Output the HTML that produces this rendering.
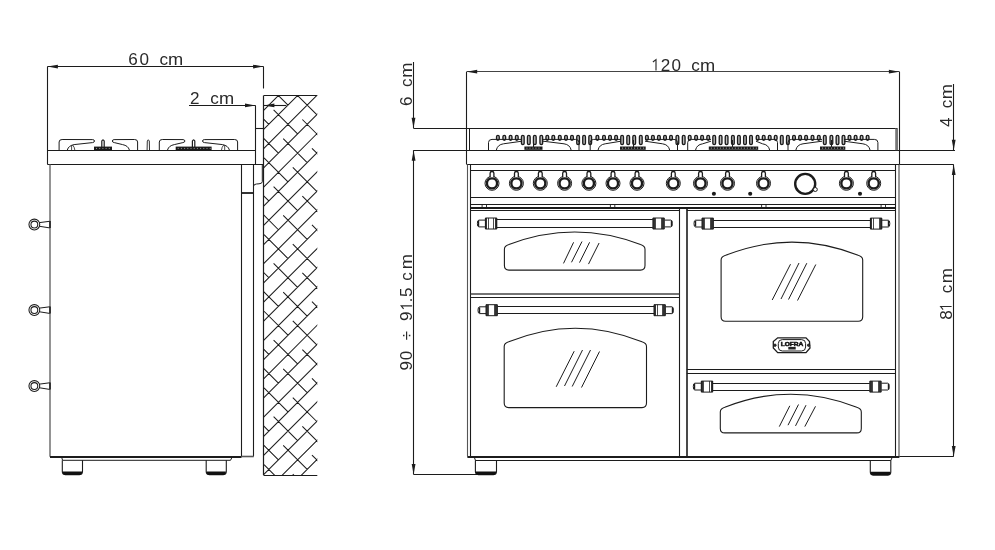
<!DOCTYPE html>
<html><head><meta charset="utf-8"><style>
html,body{margin:0;padding:0;background:#fff;}
svg{display:block;}
</style></head><body>
<svg width="995" height="550" viewBox="0 0 995 550">
<rect width="995" height="550" fill="#fff"/>
<line x1="47.40" y1="66.50" x2="263.60" y2="66.50" stroke="#1c1c1c" stroke-width="1.1" />
<path d="M47.40,66.60 L57.90,64.70 L57.90,68.50 Z" fill="#1c1c1c" stroke="none"/>
<path d="M263.60,66.60 L253.10,68.50 L253.10,64.70 Z" fill="#1c1c1c" stroke="none"/>
<line x1="47.50" y1="66.60" x2="47.50" y2="164.40" stroke="#1c1c1c" stroke-width="1.1" />
<line x1="263.50" y1="66.60" x2="263.50" y2="88.50" stroke="#1c1c1c" stroke-width="1.1" />
<line x1="189.00" y1="105.50" x2="255.50" y2="105.50" stroke="#1c1c1c" stroke-width="1.1" />
<path d="M255.50,105.40 L245.00,107.30 L245.00,103.50 Z" fill="#1c1c1c" stroke="none"/>
<line x1="263.70" y1="105.50" x2="286.40" y2="105.50" stroke="#1c1c1c" stroke-width="1.1" />
<path d="M263.90,105.40 L274.40,103.50 L274.40,107.30 Z" fill="#1c1c1c" stroke="none"/>
<line x1="255.50" y1="105.40" x2="255.50" y2="164.40" stroke="#1c1c1c" stroke-width="1.1" />
<line x1="255.50" y1="128.50" x2="263.70" y2="128.50" stroke="#1c1c1c" stroke-width="1.1" />
<line x1="47.40" y1="150.50" x2="255.50" y2="150.50" stroke="#1c1c1c" stroke-width="1.1" />
<line x1="47.40" y1="164.50" x2="263.50" y2="164.50" stroke="#1c1c1c" stroke-width="1.1" />
<path d="M59.1,150 L59.1,142 Q59.1,139.5 62.1,139.5 L92.7,139.6 Q94.5,139.8 94.5,141 Q94.5,142.3 92.5,142.6 L74.1,144.6 Q68.6,145.6 67.3,150" stroke="#1c1c1c" stroke-width="1.0" fill="none" />
<path d="M71.6,145.2 L71.6,150 M72.6,145 Q74.5,147 74.8,150" stroke="#1c1c1c" stroke-width="0.8" fill="none" />
<path d="M137.6,150 L137.6,142 Q137.6,139.5 134.6,139.5 L114.1,139.6 Q112.3,139.8 112.3,141 Q112.3,142.3 114.3,142.6 L122.6,144.6 Q128.1,145.6 129.4,150" stroke="#1c1c1c" stroke-width="1.0" fill="none" />
<path d="M159.3,150 L159.3,142 Q159.3,139.5 162.3,139.5 L183.1,139.6 Q184.9,139.8 184.9,141 Q184.9,142.3 182.9,142.6 L174.3,144.6 Q168.8,145.6 167.5,150" stroke="#1c1c1c" stroke-width="1.0" fill="none" />
<path d="M237.6,150 L237.6,142 Q237.6,139.5 234.6,139.5 L204.3,139.6 Q202.5,139.8 202.5,141 Q202.5,142.3 204.5,142.6 L222.6,144.6 Q228.1,145.6 229.4,150" stroke="#1c1c1c" stroke-width="1.0" fill="none" />
<path d="M224.7,145.2 L224.7,150 M223.7,145 Q221.8,147 221.5,150" stroke="#1c1c1c" stroke-width="0.8" fill="none" />
<rect x="94.00" y="146.60" width="18.00" height="3.40" rx="0" stroke="#1c1c1c" stroke-width="0" fill="#1a1a1a"/>
<rect x="96.00" y="147.9" width="1" height="1" fill="#999"/>
<rect x="99.20" y="147.9" width="1" height="1" fill="#999"/>
<rect x="102.40" y="147.9" width="1" height="1" fill="#999"/>
<rect x="105.60" y="147.9" width="1" height="1" fill="#999"/>
<rect x="108.80" y="147.9" width="1" height="1" fill="#999"/>
<path d="M101.8,147 L101.8,141 Q103,138.6 104.2,141 L104.2,147" stroke="#1c1c1c" stroke-width="1.2" fill="none" />
<rect x="175.70" y="146.60" width="35.90" height="3.40" rx="0" stroke="#1c1c1c" stroke-width="0" fill="#1a1a1a"/>
<rect x="177.70" y="147.9" width="1" height="1" fill="#999"/>
<rect x="180.90" y="147.9" width="1" height="1" fill="#999"/>
<rect x="184.10" y="147.9" width="1" height="1" fill="#999"/>
<rect x="187.30" y="147.9" width="1" height="1" fill="#999"/>
<rect x="190.50" y="147.9" width="1" height="1" fill="#999"/>
<rect x="193.70" y="147.9" width="1" height="1" fill="#999"/>
<rect x="196.90" y="147.9" width="1" height="1" fill="#999"/>
<rect x="200.10" y="147.9" width="1" height="1" fill="#999"/>
<rect x="203.30" y="147.9" width="1" height="1" fill="#999"/>
<rect x="206.50" y="147.9" width="1" height="1" fill="#999"/>
<rect x="209.70" y="147.9" width="1" height="1" fill="#999"/>
<path d="M192.4,147 L192.4,141 Q193.6,138.6 194.79999999999998,141 L194.79999999999998,147" stroke="#1c1c1c" stroke-width="1.2" fill="none" />
<path d="M147.1,150 L147.3,141 Q148.3,138.5 149.3,141 L149.5,150" stroke="#1c1c1c" stroke-width="0.9" fill="none" />
<line x1="50.00" y1="164.40" x2="50.00" y2="456.80" stroke="#707070" stroke-width="1.5" />
<line x1="241.50" y1="164.40" x2="241.50" y2="456.80" stroke="#1c1c1c" stroke-width="1.1" />
<line x1="50.00" y1="457.00" x2="241.50" y2="457.00" stroke="#1c1c1c" stroke-width="2" />
<path d="M61.8,457.8 L62.6,460.3 L230.5,460.3 L231.8,457.8" stroke="#1c1c1c" stroke-width="1.0" fill="none" />
<path d="M62.3,460.3 L62.3,471.6 Q62.3,474.6 65.3,474.6 L79.5,474.6 Q82.5,474.6 82.5,471.6 L82.5,460.3" stroke="#1c1c1c" stroke-width="1.1" fill="none" />
<path d="M62.8,471.40000000000003 L82.0,471.40000000000003 L82.0,472.6 Q82.0,475.1 79.5,475.1 L65.3,475.1 Q62.8,475.1 62.8,472.6 Z" stroke="#1c1c1c" stroke-width="0" fill="#111" />
<path d="M206.2,460.3 L206.2,471.6 Q206.2,474.6 209.2,474.6 L223.3,474.6 Q226.3,474.6 226.3,471.6 L226.3,460.3" stroke="#1c1c1c" stroke-width="1.1" fill="none" />
<path d="M206.7,471.40000000000003 L225.8,471.40000000000003 L225.8,472.6 Q225.8,475.1 223.3,475.1 L209.2,475.1 Q206.7,475.1 206.7,472.6 Z" stroke="#1c1c1c" stroke-width="0" fill="#111" />
<circle cx="34.35" cy="224.50" r="5.40" stroke="#1c1c1c" stroke-width="1.05" fill="none"/>
<circle cx="34.35" cy="224.50" r="3.40" stroke="#1c1c1c" stroke-width="1.05" fill="none"/>
<line x1="50.00" y1="221.00" x2="50.00" y2="228.10" stroke="#1c1c1c" stroke-width="1.6" />
<path d="M39.6,222.6 L49.6,221.3 M39.6,226.3 L49.6,227.9" stroke="#1c1c1c" stroke-width="1.0" fill="none" />
<circle cx="34.35" cy="310.00" r="5.40" stroke="#1c1c1c" stroke-width="1.05" fill="none"/>
<circle cx="34.35" cy="310.00" r="3.40" stroke="#1c1c1c" stroke-width="1.05" fill="none"/>
<line x1="50.00" y1="306.50" x2="50.00" y2="313.60" stroke="#1c1c1c" stroke-width="1.6" />
<path d="M39.6,308.1 L49.6,306.8 M39.6,311.8 L49.6,313.4" stroke="#1c1c1c" stroke-width="1.0" fill="none" />
<circle cx="34.35" cy="386.00" r="5.40" stroke="#1c1c1c" stroke-width="1.05" fill="none"/>
<circle cx="34.35" cy="386.00" r="3.40" stroke="#1c1c1c" stroke-width="1.05" fill="none"/>
<line x1="50.00" y1="382.50" x2="50.00" y2="389.60" stroke="#1c1c1c" stroke-width="1.6" />
<path d="M39.6,384.1 L49.6,382.8 M39.6,387.8 L49.6,389.4" stroke="#1c1c1c" stroke-width="1.0" fill="none" />
<line x1="253.50" y1="164.40" x2="253.50" y2="456.50" stroke="#1c1c1c" stroke-width="1.1" />
<line x1="241.50" y1="193.00" x2="253.70" y2="193.00" stroke="#1c1c1c" stroke-width="1.8" />
<path d="M262.3,164.4 L262.3,181.7 Q262.3,183.6 259,183.8 L256.5,184 Q253.7,184.2 253.7,186" stroke="#1c1c1c" stroke-width="1.0" fill="none" />
<line x1="241.50" y1="164.50" x2="241.50" y2="164.50" stroke="#1c1c1c" stroke-width="1.1" />
<path d="M241.5,456.5 L253.7,456.5" stroke="#555" stroke-width="1.6" fill="none" />
<clipPath id="wc"><rect x="263.7" y="95.6" width="53.60000000000002" height="379.6"/></clipPath>
<path d="M243.70,111.06 L337.30,17.46 M243.70,130.24 L337.30,36.63 M243.70,149.41 L337.30,55.81 M243.70,168.58 L337.30,74.98 M243.70,187.76 L337.30,94.16 M243.70,206.94 L337.30,113.33 M243.70,226.11 L337.30,132.51 M243.70,245.29 L337.30,151.69 M243.70,264.46 L337.30,170.86 M243.70,283.64 L337.30,190.04 M243.70,302.81 L337.30,209.21 M243.70,321.99 L337.30,228.39 M243.70,341.16 L337.30,247.56 M243.70,360.33 L337.30,266.73 M243.70,379.51 L337.30,285.91 M243.70,398.69 L337.30,305.08 M243.70,417.86 L337.30,324.26 M243.70,437.04 L337.30,343.44 M243.70,456.21 L337.30,362.61 M243.70,475.39 L337.30,381.79 M243.70,494.56 L337.30,400.96 M243.70,513.74 L337.30,420.14 M243.70,532.91 L337.30,439.31 M243.70,552.09 L337.30,458.49 M-224.94,531.76 L-200.97,555.73 M-186.59,570.11 L-162.62,594.08 M-148.24,608.46 L-124.27,632.43 M-109.89,646.81 L-85.92,670.78 M-71.54,685.16 L-47.57,709.13 M-33.19,723.51 L-9.22,747.48 M5.16,761.86 L29.13,785.83 M-196.18,541.35 L-172.21,565.32 M-157.83,579.70 L-133.86,603.67 M-119.48,618.05 L-95.51,642.02 M-81.13,656.40 L-57.16,680.37 M-42.78,694.75 L-18.81,718.72 M-4.43,733.10 L19.54,757.07 M33.92,771.45 L57.89,795.42 M-205.76,512.59 L-181.80,536.56 M-167.41,550.94 L-143.44,574.90 M-129.06,589.29 L-105.09,613.25 M-90.71,627.64 L-66.75,651.61 M-52.36,665.99 L-28.39,689.96 M-14.01,704.34 L9.95,728.31 M24.34,742.69 L48.31,766.65 M-177.00,522.17 L-153.03,546.14 M-138.65,560.52 L-114.68,584.49 M-100.30,598.87 L-76.33,622.84 M-61.95,637.22 L-37.98,661.19 M-23.60,675.57 L0.37,699.54 M14.75,713.92 L38.72,737.89 M53.10,752.27 L77.07,776.24 M-186.59,493.41 L-162.62,517.38 M-148.24,531.76 L-124.27,555.73 M-109.89,570.11 L-85.92,594.08 M-71.54,608.46 L-47.57,632.43 M-33.19,646.81 L-9.22,670.78 M5.16,685.16 L29.13,709.13 M43.51,723.51 L67.48,747.48 M-157.83,503.00 L-133.86,526.97 M-119.48,541.35 L-95.51,565.32 M-81.13,579.70 L-57.16,603.67 M-42.78,618.05 L-18.81,642.02 M-4.43,656.40 L19.54,680.37 M33.92,694.75 L57.89,718.72 M72.27,733.10 L96.24,757.07 M-167.41,474.24 L-143.45,498.21 M-129.06,512.59 L-105.10,536.56 M-90.71,550.94 L-66.75,574.91 M-52.36,589.29 L-28.40,613.26 M-14.01,627.64 L9.95,651.61 M24.34,665.99 L48.30,689.96 M62.69,704.34 L86.65,728.31 M-138.65,483.82 L-114.68,507.79 M-100.30,522.17 L-76.33,546.14 M-61.95,560.52 L-37.98,584.49 M-23.60,598.87 L0.37,622.84 M14.75,637.22 L38.72,661.19 M53.10,675.57 L77.07,699.54 M91.45,713.92 L115.42,737.89 M-148.24,455.06 L-124.27,479.03 M-109.89,493.41 L-85.92,517.38 M-71.54,531.76 L-47.57,555.73 M-33.19,570.11 L-9.22,594.08 M5.16,608.46 L29.13,632.43 M43.51,646.81 L67.48,670.78 M81.86,685.16 L105.83,709.13 M-119.48,464.65 L-95.51,488.62 M-81.13,503.00 L-57.16,526.97 M-42.78,541.35 L-18.81,565.32 M-4.43,579.70 L19.54,603.67 M33.92,618.05 L57.89,642.02 M72.27,656.40 L96.24,680.37 M110.62,694.75 L134.59,718.72 M-129.06,435.89 L-105.10,459.86 M-90.71,474.24 L-66.75,498.21 M-52.36,512.59 L-28.40,536.56 M-14.01,550.94 L9.95,574.90 M24.34,589.29 L48.31,613.26 M62.69,627.64 L86.65,651.61 M101.04,665.99 L125.00,689.96 M-100.30,445.47 L-76.33,469.44 M-61.95,483.82 L-37.98,507.79 M-23.60,522.17 L0.37,546.14 M14.75,560.52 L38.72,584.49 M53.10,598.87 L77.07,622.84 M91.45,637.22 L115.42,661.19 M129.80,675.57 L153.77,699.54 M-109.89,416.71 L-85.92,440.68 M-71.54,455.06 L-47.57,479.03 M-33.19,493.41 L-9.22,517.38 M5.16,531.76 L29.13,555.73 M43.51,570.11 L67.48,594.08 M81.86,608.46 L105.83,632.43 M120.21,646.81 L144.18,670.78 M-81.13,426.30 L-57.16,450.27 M-42.78,464.65 L-18.81,488.62 M-4.43,503.00 L19.54,526.97 M33.92,541.35 L57.89,565.32 M72.27,579.70 L96.24,603.67 M110.62,618.05 L134.59,642.02 M148.97,656.40 L172.94,680.37 M-90.71,397.54 L-66.75,421.50 M-52.36,435.89 L-28.39,459.86 M-14.01,474.24 L9.96,498.21 M24.34,512.59 L48.31,536.56 M62.69,550.94 L86.66,574.90 M101.04,589.29 L125.00,613.25 M139.39,627.64 L163.36,651.61 M-61.95,407.12 L-37.98,431.09 M-23.60,445.47 L0.37,469.44 M14.75,483.82 L38.72,507.79 M53.10,522.17 L77.07,546.14 M91.45,560.52 L115.42,584.49 M129.80,598.87 L153.77,622.84 M168.15,637.22 L192.12,661.19 M-71.54,378.36 L-47.57,402.33 M-33.19,416.71 L-9.22,440.68 M5.16,455.06 L29.13,479.03 M43.51,493.41 L67.48,517.38 M81.86,531.76 L105.83,555.73 M120.21,570.11 L144.18,594.08 M158.56,608.46 L182.53,632.43 M-42.78,387.95 L-18.81,411.92 M-4.43,426.30 L19.54,450.27 M33.92,464.65 L57.89,488.62 M72.27,503.00 L96.24,526.97 M110.62,541.35 L134.59,565.32 M148.97,579.70 L172.94,603.67 M187.32,618.05 L211.29,642.02 M-52.36,359.19 L-28.40,383.15 M-14.01,397.54 L9.96,421.50 M24.34,435.89 L48.31,459.86 M62.69,474.24 L86.66,498.21 M101.04,512.59 L125.01,536.56 M139.39,550.94 L163.35,574.90 M177.74,589.29 L201.71,613.25 M-23.60,368.77 L0.37,392.74 M14.75,407.12 L38.72,431.09 M53.10,445.47 L77.07,469.44 M91.45,483.82 L115.42,507.79 M129.80,522.17 L153.77,546.14 M168.15,560.52 L192.12,584.49 M206.50,598.87 L230.47,622.84 M-33.19,340.01 L-9.22,363.98 M5.16,378.36 L29.13,402.33 M43.51,416.71 L67.48,440.68 M81.86,455.06 L105.83,479.03 M120.21,493.41 L144.18,517.38 M158.56,531.76 L182.53,555.73 M196.91,570.11 L220.88,594.08 M-4.43,349.60 L19.54,373.57 M33.92,387.95 L57.89,411.92 M72.27,426.30 L96.24,450.27 M110.62,464.65 L134.59,488.62 M148.97,503.00 L172.94,526.97 M187.32,541.35 L211.29,565.32 M225.67,579.70 L249.64,603.67 M-14.01,320.84 L9.95,344.81 M24.34,359.19 L48.31,383.16 M62.69,397.54 L86.66,421.50 M101.04,435.89 L125.00,459.86 M139.39,474.24 L163.36,498.21 M177.74,512.59 L201.70,536.56 M216.09,550.94 L240.06,574.90 M14.75,330.42 L38.72,354.39 M53.10,368.77 L77.07,392.74 M91.45,407.12 L115.42,431.09 M129.80,445.47 L153.77,469.44 M168.15,483.82 L192.12,507.79 M206.50,522.17 L230.47,546.14 M244.85,560.52 L268.82,584.49 M5.16,301.66 L29.13,325.63 M43.51,340.01 L67.48,363.98 M81.86,378.36 L105.83,402.33 M120.21,416.71 L144.18,440.68 M158.56,455.06 L182.53,479.03 M196.91,493.41 L220.88,517.38 M235.26,531.76 L259.23,555.73 M33.92,311.25 L57.89,335.22 M72.27,349.60 L96.24,373.57 M110.62,387.95 L134.59,411.92 M148.97,426.30 L172.94,450.27 M187.32,464.65 L211.29,488.62 M225.67,503.00 L249.64,526.97 M264.02,541.35 L287.99,565.32 M24.34,282.49 L48.31,306.45 M62.69,320.84 L86.66,344.81 M101.04,359.19 L125.01,383.15 M139.39,397.54 L163.36,421.50 M177.74,435.89 L201.71,459.86 M216.09,474.24 L240.06,498.20 M254.44,512.59 L278.41,536.56 M53.10,292.07 L77.07,316.04 M91.45,330.42 L115.42,354.39 M129.80,368.77 L153.77,392.74 M168.15,407.12 L192.12,431.09 M206.50,445.47 L230.47,469.44 M244.85,483.82 L268.82,507.79 M283.20,522.17 L307.17,546.14 M43.51,263.31 L67.48,287.28 M81.86,301.66 L105.83,325.63 M120.21,340.01 L144.18,363.98 M158.56,378.36 L182.53,402.33 M196.91,416.71 L220.88,440.68 M235.26,455.06 L259.23,479.03 M273.61,493.41 L297.58,517.38 M72.27,272.90 L96.24,296.87 M110.62,311.25 L134.59,335.22 M148.97,349.60 L172.94,373.57 M187.32,387.95 L211.29,411.92 M225.67,426.30 L249.64,450.27 M264.02,464.65 L287.99,488.62 M302.37,503.00 L326.34,526.97 M62.69,244.14 L86.66,268.11 M101.04,282.49 L125.01,306.46 M139.39,320.84 L163.36,344.81 M177.74,359.19 L201.71,383.15 M216.09,397.54 L240.06,421.50 M254.44,435.89 L278.40,459.86 M292.79,474.24 L316.75,498.21 M91.45,253.72 L115.42,277.69 M129.80,292.07 L153.77,316.04 M168.15,330.42 L192.12,354.39 M206.50,368.77 L230.47,392.74 M244.85,407.12 L268.82,431.09 M283.20,445.47 L307.17,469.44 M321.55,483.82 L345.52,507.79 M81.86,224.96 L105.83,248.93 M120.21,263.31 L144.18,287.28 M158.56,301.66 L182.53,325.63 M196.91,340.01 L220.88,363.98 M235.26,378.36 L259.23,402.33 M273.61,416.71 L297.58,440.68 M311.96,455.06 L335.93,479.03 M110.62,234.55 L134.59,258.52 M148.97,272.90 L172.94,296.87 M187.32,311.25 L211.29,335.22 M225.67,349.60 L249.64,373.57 M264.02,387.95 L287.99,411.92 M302.37,426.30 L326.34,450.27 M340.72,464.65 L364.69,488.62 M101.04,205.79 L125.00,229.75 M139.39,244.14 L163.36,268.11 M177.74,282.49 L201.71,306.46 M216.09,320.84 L240.06,344.81 M254.44,359.19 L278.41,383.16 M292.79,397.54 L316.75,421.50 M331.14,435.89 L355.11,459.86 M129.80,215.37 L153.77,239.34 M168.15,253.72 L192.12,277.69 M206.50,292.07 L230.47,316.04 M244.85,330.42 L268.82,354.39 M283.20,368.77 L307.17,392.74 M321.55,407.12 L345.52,431.09 M359.90,445.47 L383.87,469.44 M120.21,186.61 L144.18,210.58 M158.56,224.96 L182.53,248.93 M196.91,263.31 L220.88,287.28 M235.26,301.66 L259.23,325.63 M273.61,340.01 L297.58,363.98 M311.96,378.36 L335.93,402.33 M350.31,416.71 L374.28,440.68 M148.97,196.20 L172.94,220.17 M187.32,234.55 L211.29,258.52 M225.67,272.90 L249.64,296.87 M264.02,311.25 L287.99,335.22 M302.37,349.60 L326.34,373.57 M340.72,387.95 L364.69,411.92 M379.07,426.30 L403.04,450.27 M139.39,167.44 L163.35,191.41 M177.74,205.79 L201.71,229.76 M216.09,244.14 L240.06,268.11 M254.44,282.49 L278.41,306.45 M292.79,320.84 L316.76,344.81 M331.14,359.19 L355.11,383.15 M369.49,397.54 L393.46,421.50 M168.15,177.02 L192.12,200.99 M206.50,215.37 L230.47,239.34 M244.85,253.72 L268.82,277.69 M283.20,292.07 L307.17,316.04 M321.55,330.42 L345.52,354.39 M359.90,368.77 L383.87,392.74 M398.25,407.12 L422.22,431.09 M158.56,148.26 L182.53,172.23 M196.91,186.61 L220.88,210.58 M235.26,224.96 L259.23,248.93 M273.61,263.31 L297.58,287.28 M311.96,301.66 L335.93,325.63 M350.31,340.01 L374.28,363.98 M388.66,378.36 L412.63,402.33 M187.32,157.85 L211.29,181.82 M225.67,196.20 L249.64,220.17 M264.02,234.55 L287.99,258.52 M302.37,272.90 L326.34,296.87 M340.72,311.25 L364.69,335.22 M379.07,349.60 L403.04,373.57 M417.42,387.95 L441.39,411.92 M177.74,129.09 L201.70,153.06 M216.09,167.44 L240.06,191.41 M254.44,205.79 L278.41,229.75 M292.79,244.14 L316.75,268.11 M331.14,282.49 L355.11,306.46 M369.49,320.84 L393.45,344.81 M407.84,359.19 L431.81,383.16 M206.50,138.67 L230.47,162.64 M244.85,177.02 L268.82,200.99 M283.20,215.37 L307.17,239.34 M321.55,253.72 L345.52,277.69 M359.90,292.07 L383.87,316.04 M398.25,330.42 L422.22,354.39 M436.60,368.77 L460.57,392.74 M196.91,109.91 L220.88,133.88 M235.26,148.26 L259.23,172.23 M273.61,186.61 L297.58,210.58 M311.96,224.96 L335.93,248.93 M350.31,263.31 L374.28,287.28 M388.66,301.66 L412.63,325.63 M427.01,340.01 L450.98,363.98 M225.67,119.50 L249.64,143.47 M264.02,157.85 L287.99,181.82 M302.37,196.20 L326.34,220.17 M340.72,234.55 L364.69,258.52 M379.07,272.90 L403.04,296.87 M417.42,311.25 L441.39,335.22 M455.77,349.60 L479.74,373.57 M216.09,90.74 L240.06,114.70 M254.44,129.09 L278.41,153.06 M292.79,167.44 L316.75,191.41 M331.14,205.79 L355.11,229.75 M369.49,244.14 L393.46,268.11 M407.84,282.49 L431.81,306.45 M446.19,320.84 L470.16,344.81 M244.85,100.32 L268.82,124.29 M283.20,138.67 L307.17,162.64 M321.55,177.02 L345.52,200.99 M359.90,215.37 L383.87,239.34 M398.25,253.72 L422.22,277.69 M436.60,292.07 L460.57,316.04 M474.95,330.42 L498.92,354.39 M235.26,71.56 L259.23,95.53 M273.61,109.91 L297.58,133.88 M311.96,148.26 L335.93,172.23 M350.31,186.61 L374.28,210.58 M388.66,224.96 L412.63,248.93 M427.01,263.31 L450.98,287.28 M465.36,301.66 L489.33,325.63 M264.02,81.15 L287.99,105.12 M302.37,119.50 L326.34,143.47 M340.72,157.85 L364.69,181.82 M379.07,196.20 L403.04,220.17 M417.42,234.55 L441.39,258.52 M455.77,272.90 L479.74,296.87 M494.12,311.25 L518.09,335.22 M254.44,52.39 L278.40,76.35 M292.79,90.74 L316.75,114.71 M331.14,129.09 L355.11,153.06 M369.49,167.44 L393.46,191.41 M407.84,205.79 L431.81,229.76 M446.19,244.14 L470.15,268.11 M484.54,282.49 L508.50,306.46 M283.20,61.97 L307.17,85.94 M321.55,100.32 L345.52,124.29 M359.90,138.67 L383.87,162.64 M398.25,177.02 L422.22,200.99 M436.60,215.37 L460.57,239.34 M474.95,253.72 L498.92,277.69 M513.30,292.07 L537.27,316.04 M273.61,33.21 L297.58,57.18 M311.96,71.56 L335.93,95.53 M350.31,109.91 L374.28,133.88 M388.66,148.26 L412.63,172.23 M427.01,186.61 L450.98,210.58 M465.36,224.96 L489.33,248.93 M503.71,263.31 L527.68,287.28 M302.37,42.80 L326.34,66.77 M340.72,81.15 L364.69,105.12 M379.07,119.50 L403.04,143.47 M417.42,157.85 L441.39,181.82 M455.77,196.20 L479.74,220.17 M494.12,234.55 L518.09,258.52 M532.47,272.90 L556.44,296.87 M292.79,14.04 L316.75,38.00 M331.14,52.39 L355.11,76.36 M369.49,90.74 L393.46,114.71 M407.84,129.09 L431.81,153.06 M446.19,167.44 L470.16,191.41 M484.54,205.79 L508.50,229.75 M522.89,244.14 L546.86,268.11 M321.55,23.62 L345.52,47.59 M359.90,61.97 L383.87,85.94 M398.25,100.32 L422.22,124.29 M436.60,138.67 L460.57,162.64 M474.95,177.02 L498.92,200.99 M513.30,215.37 L537.27,239.34 M551.65,253.72 L575.62,277.69 M311.96,-5.14 L335.93,18.83 M350.31,33.21 L374.28,57.18 M388.66,71.56 L412.63,95.53 M427.01,109.91 L450.98,133.88 M465.36,148.26 L489.33,172.23 M503.71,186.61 L527.68,210.58 M542.06,224.96 L566.03,248.93 M340.72,4.45 L364.69,28.42 M379.07,42.80 L403.04,66.77 M417.42,81.15 L441.39,105.12 M455.77,119.50 L479.74,143.47 M494.12,157.85 L518.09,181.82 M532.47,196.20 L556.44,220.17 M570.82,234.55 L594.79,258.52 M331.14,-24.31 L355.11,-0.35 M369.49,14.04 L393.46,38.00 M407.84,52.39 L431.81,76.35 M446.19,90.74 L470.16,114.70 M484.54,129.09 L508.51,153.06 M522.89,167.44 L546.86,191.40 M561.24,205.79 L585.21,229.75 M359.90,-14.73 L383.87,9.24 M398.25,23.62 L422.22,47.59 M436.60,61.97 L460.57,85.94 M474.95,100.32 L498.92,124.29 M513.30,138.67 L537.27,162.64 M551.65,177.02 L575.62,200.99 M590.00,215.37 L613.97,239.34 M350.31,-43.49 L374.28,-19.52 M388.66,-5.14 L412.63,18.83 M427.01,33.21 L450.98,57.18 M465.36,71.56 L489.33,95.53 M503.71,109.91 L527.68,133.88 M542.06,148.26 L566.03,172.23 M580.41,186.61 L604.38,210.58 M379.07,-33.90 L403.04,-9.93 M417.42,4.45 L441.39,28.42 M455.77,42.80 L479.74,66.77 M494.12,81.15 L518.09,105.12 M532.47,119.50 L556.44,143.47 M570.82,157.85 L594.79,181.82 M609.17,196.20 L633.14,220.17 M369.49,-62.66 L393.46,-38.70 M407.84,-24.31 L431.81,-0.34 M446.19,14.04 L470.16,38.00 M484.54,52.39 L508.50,76.35 M522.89,90.74 L546.86,114.71 M561.24,129.09 L585.21,153.05 M599.59,167.44 L623.56,191.41 M398.25,-53.08 L422.22,-29.11 M436.60,-14.73 L460.57,9.24 M474.95,23.62 L498.92,47.59 M513.30,61.97 L537.27,85.94 M551.65,100.32 L575.62,124.29 M590.00,138.67 L613.97,162.64 M628.35,177.02 L652.32,200.99 M388.66,-81.84 L412.63,-57.87 M427.01,-43.49 L450.98,-19.52 M465.36,-5.14 L489.33,18.83 M503.71,33.21 L527.68,57.18 M542.06,71.56 L566.03,95.53 M580.41,109.91 L604.38,133.88 M618.76,148.26 L642.73,172.23 M417.42,-72.25 L441.39,-48.28 M455.77,-33.90 L479.74,-9.93 M494.12,4.45 L518.09,28.42 M532.47,42.80 L556.44,66.77 M570.82,81.15 L594.79,105.12 M609.17,119.50 L633.14,143.47 M647.52,157.85 L671.49,181.82 M407.84,-101.01 L431.81,-77.05 M446.19,-62.66 L470.16,-38.69 M484.54,-24.31 L508.50,-0.34 M522.89,14.04 L546.86,38.00 M561.24,52.39 L585.21,76.36 M599.59,90.74 L623.56,114.70 M637.94,129.09 L661.90,153.06 M436.60,-91.43 L460.57,-67.46 M474.95,-53.08 L498.92,-29.11 M513.30,-14.73 L537.27,9.24 M551.65,23.62 L575.62,47.59 M590.00,61.97 L613.97,85.94 M628.35,100.32 L652.32,124.29 M666.70,138.67 L690.67,162.64 M427.01,-120.19 L450.98,-96.22 M465.36,-81.84 L489.33,-57.87 M503.71,-43.49 L527.68,-19.52 M542.06,-5.14 L566.03,18.83 M580.41,33.21 L604.38,57.18 M618.76,71.56 L642.73,95.53 M657.11,109.91 L681.08,133.88 M455.77,-110.60 L479.74,-86.63 M494.12,-72.25 L518.09,-48.28 M532.47,-33.90 L556.44,-9.93 M570.82,4.45 L594.79,28.42 M609.17,42.80 L633.14,66.77 M647.52,81.15 L671.49,105.12 M685.87,119.50 L709.84,143.47 M446.19,-139.36 L470.15,-115.39 M484.54,-101.01 L508.50,-77.04 M522.89,-62.66 L546.86,-38.69 M561.24,-24.31 L585.20,-0.34 M599.59,14.04 L623.56,38.01 M637.94,52.39 L661.90,76.36 M676.29,90.74 L700.25,114.71 M474.95,-129.78 L498.92,-105.81 M513.30,-91.43 L537.27,-67.46 M551.65,-53.08 L575.62,-29.11 M590.00,-14.73 L613.97,9.24 M628.35,23.62 L652.32,47.59 M666.70,61.97 L690.67,85.94 M705.05,100.32 L729.02,124.29 M465.36,-158.54 L489.33,-134.57 M503.71,-120.19 L527.68,-96.22 M542.06,-81.84 L566.03,-57.87 M580.41,-43.49 L604.38,-19.52 M618.76,-5.14 L642.73,18.83 M657.11,33.21 L681.08,57.18 M695.46,71.56 L719.43,95.53 M494.12,-148.95 L518.09,-124.98 M532.47,-110.60 L556.44,-86.63 M570.82,-72.25 L594.79,-48.28 M609.17,-33.90 L633.14,-9.93 M647.52,4.45 L671.49,28.42 M685.87,42.80 L709.84,66.77 M724.22,81.15 L748.19,105.12 M484.54,-177.71 L508.50,-153.75 M522.89,-139.36 L546.86,-115.39 M561.24,-101.01 L585.21,-77.04 M599.59,-62.66 L623.56,-38.69 M637.94,-24.31 L661.90,-0.34 M676.29,14.04 L700.25,38.00 M714.64,52.39 L738.61,76.36 M513.30,-168.13 L537.27,-144.16 M551.65,-129.78 L575.62,-105.81 M590.00,-91.43 L613.97,-67.46 M628.35,-53.08 L652.32,-29.11 M666.70,-14.73 L690.67,9.24 M705.05,23.62 L729.02,47.59 M743.40,61.97 L767.37,85.94 M503.71,-196.89 L527.68,-172.92 M542.06,-158.54 L566.03,-134.57 M580.41,-120.19 L604.38,-96.22 M618.76,-81.84 L642.73,-57.87 M657.11,-43.49 L681.08,-19.52 M695.46,-5.14 L719.43,18.83 M733.81,33.21 L757.78,57.18 M532.47,-187.30 L556.44,-163.33 M570.82,-148.95 L594.79,-124.98 M609.17,-110.60 L633.14,-86.63 M647.52,-72.25 L671.49,-48.28 M685.87,-33.90 L709.84,-9.93 M724.22,4.45 L748.19,28.42 M762.57,42.80 L786.54,66.77 M522.89,-216.06 L546.86,-192.09 M561.24,-177.71 L585.20,-153.74 M599.59,-139.36 L623.55,-115.39 M637.94,-101.01 L661.90,-77.04 M676.29,-62.66 L700.25,-38.69 M714.64,-24.31 L738.61,-0.34 M752.99,14.04 L776.95,38.01 M551.65,-206.48 L575.62,-182.51 M590.00,-168.13 L613.97,-144.16 M628.35,-129.78 L652.32,-105.81 M666.70,-91.43 L690.67,-67.46 M705.05,-53.08 L729.02,-29.11 M743.40,-14.73 L767.37,9.24 M781.75,23.62 L805.72,47.59" stroke="#1c1c1c" stroke-width="1.05" fill="none" clip-path="url(#wc)"/>
<line x1="263.70" y1="95.50" x2="317.30" y2="95.50" stroke="#1c1c1c" stroke-width="1.1" />
<line x1="263.50" y1="95.60" x2="263.50" y2="475.20" stroke="#1c1c1c" stroke-width="1.2" />
<line x1="263.70" y1="475.50" x2="317.30" y2="475.50" stroke="#1c1c1c" stroke-width="1.1" />
<line x1="466.70" y1="71.50" x2="899.40" y2="71.50" stroke="#444" stroke-width="1.1" />
<path d="M466.70,71.70 L477.20,69.80 L477.20,73.60 Z" fill="#1c1c1c" stroke="none"/>
<path d="M899.40,71.70 L888.90,73.60 L888.90,69.80 Z" fill="#1c1c1c" stroke="none"/>
<line x1="466.50" y1="71.70" x2="466.50" y2="164.40" stroke="#1c1c1c" stroke-width="1.1" />
<line x1="899.50" y1="71.70" x2="899.50" y2="164.40" stroke="#1c1c1c" stroke-width="1.1" />
<line x1="899.00" y1="164.40" x2="899.00" y2="456.40" stroke="#777" stroke-width="1.5" />
<line x1="413.50" y1="62.00" x2="413.50" y2="128.30" stroke="#1c1c1c" stroke-width="1.1" />
<path d="M413.50,128.30 L411.60,117.80 L415.40,117.80 Z" fill="#1c1c1c" stroke="none"/>
<line x1="413.50" y1="128.50" x2="897.30" y2="128.50" stroke="#1c1c1c" stroke-width="1.1" />
<line x1="413.50" y1="150.50" x2="955.00" y2="150.50" stroke="#1c1c1c" stroke-width="1.1" />
<line x1="413.50" y1="150.20" x2="413.50" y2="474.60" stroke="#1c1c1c" stroke-width="1.1" />
<path d="M413.60,150.20 L415.50,160.70 L411.70,160.70 Z" fill="#1c1c1c" stroke="none"/>
<path d="M413.60,474.60 L411.70,464.10 L415.50,464.10 Z" fill="#1c1c1c" stroke="none"/>
<line x1="413.60" y1="474.50" x2="477.00" y2="474.50" stroke="#1c1c1c" stroke-width="1.1" />
<line x1="953.50" y1="84.00" x2="953.50" y2="150.20" stroke="#1c1c1c" stroke-width="1.1" />
<path d="M953.70,150.20 L951.80,139.70 L955.60,139.70 Z" fill="#1c1c1c" stroke="none"/>
<line x1="899.40" y1="164.50" x2="953.70" y2="164.50" stroke="#1c1c1c" stroke-width="1.1" />
<line x1="953.50" y1="164.40" x2="953.50" y2="456.40" stroke="#1c1c1c" stroke-width="1.1" />
<path d="M953.70,164.40 L955.60,174.90 L951.80,174.90 Z" fill="#1c1c1c" stroke="none"/>
<path d="M953.70,456.40 L951.80,445.90 L955.60,445.90 Z" fill="#1c1c1c" stroke="none"/>
<line x1="899.40" y1="456.50" x2="953.70" y2="456.50" stroke="#1c1c1c" stroke-width="1.1" />
<line x1="469.50" y1="128.30" x2="469.50" y2="150.20" stroke="#1c1c1c" stroke-width="1.0" />
<line x1="897.00" y1="128.30" x2="897.00" y2="150.20" stroke="#555" stroke-width="1.6" />
<line x1="895.50" y1="128.30" x2="895.50" y2="150.20" stroke="#777" stroke-width="0.8" />
<line x1="466.70" y1="164.50" x2="899.40" y2="164.50" stroke="#1c1c1c" stroke-width="1.1" />
<line x1="470.50" y1="164.40" x2="470.50" y2="456.50" stroke="#1c1c1c" stroke-width="1.1" />
<line x1="467.50" y1="164.40" x2="467.50" y2="456.50" stroke="#555" stroke-width="1.1" />
<line x1="895.50" y1="164.40" x2="895.50" y2="456.50" stroke="#1c1c1c" stroke-width="1.1" />
<line x1="470.60" y1="170.50" x2="895.60" y2="170.50" stroke="#1c1c1c" stroke-width="1.1" />
<line x1="470.60" y1="197.50" x2="895.60" y2="197.50" stroke="#1c1c1c" stroke-width="1.1" />
<line x1="470.60" y1="204.50" x2="895.60" y2="204.50" stroke="#1c1c1c" stroke-width="1.0" />
<line x1="470.60" y1="208.00" x2="895.60" y2="208.00" stroke="#1c1c1c" stroke-width="1.9" />
<line x1="470.60" y1="210.50" x2="679.30" y2="210.50" stroke="#1c1c1c" stroke-width="1.0" />
<line x1="686.90" y1="210.50" x2="895.60" y2="210.50" stroke="#1c1c1c" stroke-width="1.0" />
<path d="M482.10,204.6 L482.10,207.6 M486.50,204.6 L486.50,207.6" stroke="#1c1c1c" stroke-width="0.9" fill="none" />
<path d="M610.40,204.6 L610.40,207.6 M614.80,204.6 L614.80,207.6" stroke="#1c1c1c" stroke-width="0.9" fill="none" />
<path d="M761.60,204.6 L761.60,207.6 M766.00,204.6 L766.00,207.6" stroke="#1c1c1c" stroke-width="0.9" fill="none" />
<path d="M881.10,204.6 L881.10,207.6 M885.50,204.6 L885.50,207.6" stroke="#1c1c1c" stroke-width="0.9" fill="none" />
<circle cx="492.00" cy="183.30" r="7.00" stroke="#1c1c1c" stroke-width="1.0" fill="none"/>
<circle cx="492.00" cy="183.30" r="5.10" stroke="#1c1c1c" stroke-width="2.4" fill="none"/>
<path d="M490.1,177.2 L490.1,173.2 Q490.1,171.5 492,171.5 Q493.9,171.5 493.9,173.2 L493.9,177.2" stroke="#1c1c1c" stroke-width="1.3" fill="#fff" />
<circle cx="516.40" cy="183.30" r="7.00" stroke="#1c1c1c" stroke-width="1.0" fill="none"/>
<circle cx="516.40" cy="183.30" r="5.10" stroke="#1c1c1c" stroke-width="2.4" fill="none"/>
<path d="M514.5,177.2 L514.5,173.2 Q514.5,171.5 516.4,171.5 Q518.3,171.5 518.3,173.2 L518.3,177.2" stroke="#1c1c1c" stroke-width="1.3" fill="#fff" />
<circle cx="540.30" cy="183.30" r="7.00" stroke="#1c1c1c" stroke-width="1.0" fill="none"/>
<circle cx="540.30" cy="183.30" r="5.10" stroke="#1c1c1c" stroke-width="2.4" fill="none"/>
<path d="M538.4,177.2 L538.4,173.2 Q538.4,171.5 540.3,171.5 Q542.1999999999999,171.5 542.1999999999999,173.2 L542.1999999999999,177.2" stroke="#1c1c1c" stroke-width="1.3" fill="#fff" />
<circle cx="564.60" cy="183.30" r="7.00" stroke="#1c1c1c" stroke-width="1.0" fill="none"/>
<circle cx="564.60" cy="183.30" r="5.10" stroke="#1c1c1c" stroke-width="2.4" fill="none"/>
<path d="M562.7,177.2 L562.7,173.2 Q562.7,171.5 564.6,171.5 Q566.5,171.5 566.5,173.2 L566.5,177.2" stroke="#1c1c1c" stroke-width="1.3" fill="#fff" />
<circle cx="588.90" cy="183.30" r="7.00" stroke="#1c1c1c" stroke-width="1.0" fill="none"/>
<circle cx="588.90" cy="183.30" r="5.10" stroke="#1c1c1c" stroke-width="2.4" fill="none"/>
<path d="M587.0,177.2 L587.0,173.2 Q587.0,171.5 588.9,171.5 Q590.8,171.5 590.8,173.2 L590.8,177.2" stroke="#1c1c1c" stroke-width="1.3" fill="#fff" />
<circle cx="613.00" cy="183.30" r="7.00" stroke="#1c1c1c" stroke-width="1.0" fill="none"/>
<circle cx="613.00" cy="183.30" r="5.10" stroke="#1c1c1c" stroke-width="2.4" fill="none"/>
<path d="M611.1,177.2 L611.1,173.2 Q611.1,171.5 613,171.5 Q614.9,171.5 614.9,173.2 L614.9,177.2" stroke="#1c1c1c" stroke-width="1.3" fill="#fff" />
<circle cx="637.00" cy="183.30" r="7.00" stroke="#1c1c1c" stroke-width="1.0" fill="none"/>
<circle cx="637.00" cy="183.30" r="5.10" stroke="#1c1c1c" stroke-width="2.4" fill="none"/>
<path d="M635.1,177.2 L635.1,173.2 Q635.1,171.5 637,171.5 Q638.9,171.5 638.9,173.2 L638.9,177.2" stroke="#1c1c1c" stroke-width="1.3" fill="#fff" />
<circle cx="673.30" cy="183.30" r="7.00" stroke="#1c1c1c" stroke-width="1.0" fill="none"/>
<circle cx="673.30" cy="183.30" r="5.10" stroke="#1c1c1c" stroke-width="2.4" fill="none"/>
<path d="M671.4,177.2 L671.4,173.2 Q671.4,171.5 673.3,171.5 Q675.1999999999999,171.5 675.1999999999999,173.2 L675.1999999999999,177.2" stroke="#1c1c1c" stroke-width="1.3" fill="#fff" />
<circle cx="700.50" cy="183.30" r="7.00" stroke="#1c1c1c" stroke-width="1.0" fill="none"/>
<circle cx="700.50" cy="183.30" r="5.10" stroke="#1c1c1c" stroke-width="2.4" fill="none"/>
<path d="M698.6,177.2 L698.6,173.2 Q698.6,171.5 700.5,171.5 Q702.4,171.5 702.4,173.2 L702.4,177.2" stroke="#1c1c1c" stroke-width="1.3" fill="#fff" />
<circle cx="727.50" cy="183.30" r="7.00" stroke="#1c1c1c" stroke-width="1.0" fill="none"/>
<circle cx="727.50" cy="183.30" r="5.10" stroke="#1c1c1c" stroke-width="2.4" fill="none"/>
<path d="M725.6,177.2 L725.6,173.2 Q725.6,171.5 727.5,171.5 Q729.4,171.5 729.4,173.2 L729.4,177.2" stroke="#1c1c1c" stroke-width="1.3" fill="#fff" />
<circle cx="763.50" cy="183.30" r="7.00" stroke="#1c1c1c" stroke-width="1.0" fill="none"/>
<circle cx="763.50" cy="183.30" r="5.10" stroke="#1c1c1c" stroke-width="2.4" fill="none"/>
<path d="M761.6,177.2 L761.6,173.2 Q761.6,171.5 763.5,171.5 Q765.4,171.5 765.4,173.2 L765.4,177.2" stroke="#1c1c1c" stroke-width="1.3" fill="#fff" />
<circle cx="846.40" cy="183.30" r="7.00" stroke="#1c1c1c" stroke-width="1.0" fill="none"/>
<circle cx="846.40" cy="183.30" r="5.10" stroke="#1c1c1c" stroke-width="2.4" fill="none"/>
<path d="M844.5,177.2 L844.5,173.2 Q844.5,171.5 846.4,171.5 Q848.3,171.5 848.3,173.2 L848.3,177.2" stroke="#1c1c1c" stroke-width="1.3" fill="#fff" />
<circle cx="873.70" cy="183.30" r="7.00" stroke="#1c1c1c" stroke-width="1.0" fill="none"/>
<circle cx="873.70" cy="183.30" r="5.10" stroke="#1c1c1c" stroke-width="2.4" fill="none"/>
<path d="M871.8000000000001,177.2 L871.8000000000001,173.2 Q871.8000000000001,171.5 873.7,171.5 Q875.6,171.5 875.6,173.2 L875.6,177.2" stroke="#1c1c1c" stroke-width="1.3" fill="#fff" />
<circle cx="805.20" cy="183.90" r="10.00" stroke="#1c1c1c" stroke-width="2.4" fill="none"/>
<circle cx="815.30" cy="189.50" r="2.00" stroke="#1c1c1c" stroke-width="1.0" fill="#fff"/>
<circle cx="713.90" cy="193.80" r="2.05" stroke="#1c1c1c" stroke-width="0" fill="#1c1c1c"/>
<circle cx="750.20" cy="193.80" r="2.05" stroke="#1c1c1c" stroke-width="0" fill="#1c1c1c"/>
<circle cx="860.00" cy="193.80" r="2.05" stroke="#1c1c1c" stroke-width="0" fill="#1c1c1c"/>
<line x1="679.50" y1="207.80" x2="679.50" y2="456.50" stroke="#1c1c1c" stroke-width="1.1" />
<line x1="687.00" y1="207.80" x2="687.00" y2="456.50" stroke="#1c1c1c" stroke-width="1.6" />
<line x1="470.60" y1="294.00" x2="679.30" y2="294.00" stroke="#444" stroke-width="1.5" />
<line x1="470.60" y1="297.50" x2="679.30" y2="297.50" stroke="#1c1c1c" stroke-width="1.1" />
<line x1="686.90" y1="369.50" x2="895.60" y2="369.50" stroke="#1c1c1c" stroke-width="1.1" />
<line x1="686.90" y1="373.50" x2="895.60" y2="373.50" stroke="#1c1c1c" stroke-width="1.1" />
<line x1="467.40" y1="457.00" x2="899.40" y2="457.00" stroke="#1c1c1c" stroke-width="2" />
<path d="M474.5,457.8 L475.5,460.5 L890.8,460.5 L892,457.8" stroke="#1c1c1c" stroke-width="1.0" fill="none" />
<path d="M475.4,460.3 L475.4,471.6 Q475.4,474.6 478.4,474.6 L493.5,474.6 Q496.5,474.6 496.5,471.6 L496.5,460.3" stroke="#1c1c1c" stroke-width="1.1" fill="none" />
<path d="M475.9,471.40000000000003 L496.0,471.40000000000003 L496.0,472.6 Q496.0,475.1 493.5,475.1 L478.4,475.1 Q475.9,475.1 475.9,472.6 Z" stroke="#1c1c1c" stroke-width="0" fill="#111" />
<path d="M870.3,460.3 L870.3,472.0 Q870.3,475.0 873.3,475.0 L887.8,475.0 Q890.8,475.0 890.8,472.0 L890.8,460.3" stroke="#1c1c1c" stroke-width="1.1" fill="none" />
<path d="M870.8,471.8 L890.3,471.8 L890.3,473.0 Q890.3,475.5 887.8,475.5 L873.3,475.5 Q870.8,475.5 870.8,473.0 Z" stroke="#1c1c1c" stroke-width="0" fill="#111" />
<path d="M485.40,220.10 L478.90,220.10 Q477.40,220.10 477.40,223.50 Q477.40,226.90 478.90,226.90 L485.40,226.90" stroke="#1c1c1c" stroke-width="1.0" fill="none" />
<line x1="478.50" y1="220.60" x2="478.50" y2="226.40" stroke="#1c1c1c" stroke-width="1.4" />
<path d="M485.40,218.00 L496.80,218.00 L496.80,229.00 L485.40,229.00 Z" stroke="#1c1c1c" stroke-width="1.0" fill="#fff" />
<line x1="486.00" y1="218.00" x2="486.00" y2="229.00" stroke="#1c1c1c" stroke-width="1.8" />
<line x1="496.00" y1="218.00" x2="496.00" y2="229.00" stroke="#1c1c1c" stroke-width="1.8" />
<line x1="488.50" y1="218.00" x2="488.50" y2="229.00" stroke="#1c1c1c" stroke-width="0.8" />
<line x1="493.50" y1="218.00" x2="493.50" y2="229.00" stroke="#1c1c1c" stroke-width="0.8" />
<path d="M664.30,220.10 L670.80,220.10 Q672.30,220.10 672.30,223.50 Q672.30,226.90 670.80,226.90 L664.30,226.90" stroke="#1c1c1c" stroke-width="1.0" fill="none" />
<line x1="671.50" y1="220.60" x2="671.50" y2="226.40" stroke="#1c1c1c" stroke-width="1.4" />
<path d="M664.30,218.00 L652.90,218.00 L652.90,229.00 L664.30,229.00 Z" stroke="#1c1c1c" stroke-width="1.0" fill="#fff" />
<line x1="663.00" y1="218.00" x2="663.00" y2="229.00" stroke="#1c1c1c" stroke-width="1.8" />
<line x1="654.00" y1="218.00" x2="654.00" y2="229.00" stroke="#1c1c1c" stroke-width="1.8" />
<line x1="661.50" y1="218.00" x2="661.50" y2="229.00" stroke="#1c1c1c" stroke-width="0.8" />
<line x1="655.50" y1="218.00" x2="655.50" y2="229.00" stroke="#1c1c1c" stroke-width="0.8" />
<line x1="496.80" y1="219.50" x2="652.90" y2="219.50" stroke="#1c1c1c" stroke-width="1.0" />
<line x1="496.80" y1="227.50" x2="652.90" y2="227.50" stroke="#1c1c1c" stroke-width="1.0" />
<path d="M486.00,306.80 L479.50,306.80 Q478.00,306.80 478.00,310.20 Q478.00,313.60 479.50,313.60 L486.00,313.60" stroke="#1c1c1c" stroke-width="1.0" fill="none" />
<line x1="479.50" y1="307.30" x2="479.50" y2="313.10" stroke="#1c1c1c" stroke-width="1.4" />
<path d="M486.00,304.70 L497.40,304.70 L497.40,315.70 L486.00,315.70 Z" stroke="#1c1c1c" stroke-width="1.0" fill="#fff" />
<line x1="487.00" y1="304.70" x2="487.00" y2="315.70" stroke="#1c1c1c" stroke-width="1.8" />
<line x1="496.00" y1="304.70" x2="496.00" y2="315.70" stroke="#1c1c1c" stroke-width="1.8" />
<line x1="488.50" y1="304.70" x2="488.50" y2="315.70" stroke="#1c1c1c" stroke-width="0.8" />
<line x1="494.50" y1="304.70" x2="494.50" y2="315.70" stroke="#1c1c1c" stroke-width="0.8" />
<path d="M665.40,306.80 L671.90,306.80 Q673.40,306.80 673.40,310.20 Q673.40,313.60 671.90,313.60 L665.40,313.60" stroke="#1c1c1c" stroke-width="1.0" fill="none" />
<line x1="672.50" y1="307.30" x2="672.50" y2="313.10" stroke="#1c1c1c" stroke-width="1.4" />
<path d="M665.40,304.70 L654.00,304.70 L654.00,315.70 L665.40,315.70 Z" stroke="#1c1c1c" stroke-width="1.0" fill="#fff" />
<line x1="664.00" y1="304.70" x2="664.00" y2="315.70" stroke="#1c1c1c" stroke-width="1.8" />
<line x1="655.00" y1="304.70" x2="655.00" y2="315.70" stroke="#1c1c1c" stroke-width="1.8" />
<line x1="662.50" y1="304.70" x2="662.50" y2="315.70" stroke="#1c1c1c" stroke-width="0.8" />
<line x1="657.50" y1="304.70" x2="657.50" y2="315.70" stroke="#1c1c1c" stroke-width="0.8" />
<line x1="497.40" y1="306.50" x2="654.00" y2="306.50" stroke="#1c1c1c" stroke-width="1.0" />
<line x1="497.40" y1="313.50" x2="654.00" y2="313.50" stroke="#1c1c1c" stroke-width="1.0" />
<path d="M702.00,220.20 L695.50,220.20 Q694.00,220.20 694.00,223.60 Q694.00,227.00 695.50,227.00 L702.00,227.00" stroke="#1c1c1c" stroke-width="1.0" fill="none" />
<line x1="695.50" y1="220.70" x2="695.50" y2="226.50" stroke="#1c1c1c" stroke-width="1.4" />
<path d="M702.00,218.10 L713.40,218.10 L713.40,229.10 L702.00,229.10 Z" stroke="#1c1c1c" stroke-width="1.0" fill="#fff" />
<line x1="703.00" y1="218.10" x2="703.00" y2="229.10" stroke="#1c1c1c" stroke-width="1.8" />
<line x1="712.00" y1="218.10" x2="712.00" y2="229.10" stroke="#1c1c1c" stroke-width="1.8" />
<line x1="704.50" y1="218.10" x2="704.50" y2="229.10" stroke="#1c1c1c" stroke-width="0.8" />
<line x1="710.50" y1="218.10" x2="710.50" y2="229.10" stroke="#1c1c1c" stroke-width="0.8" />
<path d="M881.80,220.20 L888.30,220.20 Q889.80,220.20 889.80,223.60 Q889.80,227.00 888.30,227.00 L881.80,227.00" stroke="#1c1c1c" stroke-width="1.0" fill="none" />
<line x1="888.50" y1="220.70" x2="888.50" y2="226.50" stroke="#1c1c1c" stroke-width="1.4" />
<path d="M881.80,218.10 L870.40,218.10 L870.40,229.10 L881.80,229.10 Z" stroke="#1c1c1c" stroke-width="1.0" fill="#fff" />
<line x1="881.00" y1="218.10" x2="881.00" y2="229.10" stroke="#1c1c1c" stroke-width="1.8" />
<line x1="871.00" y1="218.10" x2="871.00" y2="229.10" stroke="#1c1c1c" stroke-width="1.8" />
<line x1="879.50" y1="218.10" x2="879.50" y2="229.10" stroke="#1c1c1c" stroke-width="0.8" />
<line x1="873.50" y1="218.10" x2="873.50" y2="229.10" stroke="#1c1c1c" stroke-width="0.8" />
<line x1="713.40" y1="220.50" x2="870.40" y2="220.50" stroke="#1c1c1c" stroke-width="1.0" />
<line x1="713.40" y1="227.50" x2="870.40" y2="227.50" stroke="#1c1c1c" stroke-width="1.0" />
<path d="M701.30,383.20 L694.80,383.20 Q693.30,383.20 693.30,386.60 Q693.30,390.00 694.80,390.00 L701.30,390.00" stroke="#1c1c1c" stroke-width="1.0" fill="none" />
<line x1="694.50" y1="383.70" x2="694.50" y2="389.50" stroke="#1c1c1c" stroke-width="1.4" />
<path d="M701.30,381.10 L712.70,381.10 L712.70,392.10 L701.30,392.10 Z" stroke="#1c1c1c" stroke-width="1.0" fill="#fff" />
<line x1="702.00" y1="381.10" x2="702.00" y2="392.10" stroke="#1c1c1c" stroke-width="1.8" />
<line x1="712.00" y1="381.10" x2="712.00" y2="392.10" stroke="#1c1c1c" stroke-width="1.8" />
<line x1="703.50" y1="381.10" x2="703.50" y2="392.10" stroke="#1c1c1c" stroke-width="0.8" />
<line x1="709.50" y1="381.10" x2="709.50" y2="392.10" stroke="#1c1c1c" stroke-width="0.8" />
<path d="M881.20,383.20 L887.70,383.20 Q889.20,383.20 889.20,386.60 Q889.20,390.00 887.70,390.00 L881.20,390.00" stroke="#1c1c1c" stroke-width="1.0" fill="none" />
<line x1="888.50" y1="383.70" x2="888.50" y2="389.50" stroke="#1c1c1c" stroke-width="1.4" />
<path d="M881.20,381.10 L869.80,381.10 L869.80,392.10 L881.20,392.10 Z" stroke="#1c1c1c" stroke-width="1.0" fill="#fff" />
<line x1="880.00" y1="381.10" x2="880.00" y2="392.10" stroke="#1c1c1c" stroke-width="1.8" />
<line x1="871.00" y1="381.10" x2="871.00" y2="392.10" stroke="#1c1c1c" stroke-width="1.8" />
<line x1="878.50" y1="381.10" x2="878.50" y2="392.10" stroke="#1c1c1c" stroke-width="0.8" />
<line x1="872.50" y1="381.10" x2="872.50" y2="392.10" stroke="#1c1c1c" stroke-width="0.8" />
<line x1="712.70" y1="383.50" x2="869.80" y2="383.50" stroke="#1c1c1c" stroke-width="1.0" />
<line x1="712.70" y1="390.50" x2="869.80" y2="390.50" stroke="#1c1c1c" stroke-width="1.0" />
<path d="M504.4,265.6 L504.4,249.2 Q504.4,245.89999999999998 508.9,244.5 Q574.7,219.5 640.5,244.5 Q645,245.89999999999998 645,249.2 L645,265.6 Q645,270.1 640.5,270.1 L508.9,270.1 Q504.4,270.1 504.4,265.6 Z" stroke="#1c1c1c" stroke-width="1.1" fill="none" />
<path d="M504.2,403.1 L504.2,346.5 Q504.2,343.2 508.7,341.8 Q575.35,314.59999999999997 642.0,341.8 Q646.5,343.2 646.5,346.5 L646.5,403.1 Q646.5,407.6 642.0,407.6 L508.7,407.6 Q504.2,407.6 504.2,403.1 Z" stroke="#1c1c1c" stroke-width="1.1" fill="none" />
<path d="M721.1,316.8 L721.1,260.0 Q721.1,256.7 725.6,255.3 Q791.9000000000001,228.89999999999998 858.2,255.3 Q862.7,256.7 862.7,260.0 L862.7,316.8 Q862.7,321.3 858.2,321.3 L725.6,321.3 Q721.1,321.3 721.1,316.8 Z" stroke="#1c1c1c" stroke-width="1.1" fill="none" />
<path d="M720.3,428.4 L720.3,411.9 Q720.3,408.59999999999997 724.8,407.2 Q790.8,381.2 856.8,407.2 Q861.3,408.59999999999997 861.3,411.9 L861.3,428.4 Q861.3,432.9 856.8,432.9 L724.8,432.9 Q720.3,432.9 720.3,428.4 Z" stroke="#1c1c1c" stroke-width="1.1" fill="none" />
<line x1="563.50" y1="263.40" x2="573.60" y2="242.30" stroke="#1c1c1c" stroke-width="1.0" />
<line x1="571.50" y1="262.30" x2="582.00" y2="241.50" stroke="#1c1c1c" stroke-width="1.0" />
<line x1="579.50" y1="262.60" x2="589.60" y2="242.30" stroke="#1c1c1c" stroke-width="1.0" />
<line x1="588.50" y1="264.10" x2="599.10" y2="243.00" stroke="#1c1c1c" stroke-width="1.0" />
<line x1="556.20" y1="386.80" x2="574.20" y2="351.20" stroke="#1c1c1c" stroke-width="1.0" />
<line x1="564.50" y1="386.00" x2="582.50" y2="350.00" stroke="#1c1c1c" stroke-width="1.0" />
<line x1="572.20" y1="386.50" x2="590.50" y2="350.00" stroke="#1c1c1c" stroke-width="1.0" />
<line x1="581.50" y1="387.50" x2="599.50" y2="351.50" stroke="#1c1c1c" stroke-width="1.0" />
<line x1="772.20" y1="300.00" x2="790.50" y2="264.20" stroke="#1c1c1c" stroke-width="1.0" />
<line x1="781.00" y1="299.00" x2="799.00" y2="263.00" stroke="#1c1c1c" stroke-width="1.0" />
<line x1="788.50" y1="299.50" x2="806.80" y2="263.20" stroke="#1c1c1c" stroke-width="1.0" />
<line x1="797.50" y1="300.50" x2="815.80" y2="264.50" stroke="#1c1c1c" stroke-width="1.0" />
<line x1="779.30" y1="426.60" x2="789.80" y2="405.80" stroke="#1c1c1c" stroke-width="1.0" />
<line x1="788.00" y1="425.20" x2="798.50" y2="404.50" stroke="#1c1c1c" stroke-width="1.0" />
<line x1="795.50" y1="425.90" x2="806.00" y2="405.20" stroke="#1c1c1c" stroke-width="1.0" />
<line x1="804.80" y1="426.60" x2="815.50" y2="406.30" stroke="#1c1c1c" stroke-width="1.0" />
<path d="M777.7,337.8 L806,337.8 L809.5,341.5 L810,348 L806,352.6 L777.7,352.6 L773.3,348 L773.3,341.5 Z" stroke="#1c1c1c" stroke-width="1.3" fill="none" />
<rect x="778.30" y="339.60" width="27.30" height="11.40" rx="4" stroke="#1c1c1c" stroke-width="1.0" fill="none"/>
<text transform="translate(792,345.9) scale(1.18,1)" text-anchor="middle" font-family="Liberation Sans, sans-serif" font-weight="bold" font-size="5.6" fill="#111" stroke="#111" stroke-width="0.5" style="opacity:0.999;will-change:transform">LOFRA</text>
<rect x="788.30" y="346.90" width="7.40" height="2.60" rx="0" stroke="#1c1c1c" stroke-width="0" fill="#222"/>
<circle cx="775.00" cy="345.20" r="1.20" stroke="#1c1c1c" stroke-width="0.8" fill="#333"/>
<circle cx="808.60" cy="345.20" r="1.20" stroke="#1c1c1c" stroke-width="0.8" fill="#333"/>
<rect x="496.55" y="135.4" width="2.7" height="4.80" rx="1.35" stroke="#1c1c1c" stroke-width="1.35" fill="#bdbdbd"/>
<rect x="502.95" y="135.4" width="2.7" height="4.80" rx="1.35" stroke="#1c1c1c" stroke-width="1.35" fill="#bdbdbd"/>
<rect x="509.25" y="135.4" width="2.7" height="4.80" rx="1.35" stroke="#1c1c1c" stroke-width="1.35" fill="#bdbdbd"/>
<rect x="515.45" y="135.4" width="2.7" height="4.80" rx="1.35" stroke="#1c1c1c" stroke-width="1.35" fill="#bdbdbd"/>
<rect x="521.45" y="135.4" width="2.7" height="9.10" rx="1.35" stroke="#1c1c1c" stroke-width="1.35" fill="#bdbdbd"/>
<rect x="527.45" y="135.4" width="2.7" height="9.10" rx="1.35" stroke="#1c1c1c" stroke-width="1.35" fill="#bdbdbd"/>
<rect x="533.45" y="135.4" width="2.7" height="9.10" rx="1.35" stroke="#1c1c1c" stroke-width="1.35" fill="#bdbdbd"/>
<rect x="539.95" y="135.4" width="2.7" height="9.10" rx="1.35" stroke="#1c1c1c" stroke-width="1.35" fill="#bdbdbd"/>
<rect x="545.95" y="135.4" width="2.7" height="4.80" rx="1.35" stroke="#1c1c1c" stroke-width="1.35" fill="#bdbdbd"/>
<rect x="551.95" y="135.4" width="2.7" height="4.80" rx="1.35" stroke="#1c1c1c" stroke-width="1.35" fill="#bdbdbd"/>
<rect x="558.45" y="135.4" width="2.7" height="4.80" rx="1.35" stroke="#1c1c1c" stroke-width="1.35" fill="#bdbdbd"/>
<rect x="564.65" y="135.4" width="2.7" height="4.80" rx="1.35" stroke="#1c1c1c" stroke-width="1.35" fill="#bdbdbd"/>
<rect x="570.65" y="135.4" width="2.7" height="4.80" rx="1.35" stroke="#1c1c1c" stroke-width="1.35" fill="#bdbdbd"/>
<rect x="576.75" y="135.4" width="2.7" height="9.10" rx="1.35" stroke="#1c1c1c" stroke-width="1.35" fill="#bdbdbd"/>
<rect x="582.75" y="135.4" width="2.7" height="9.10" rx="1.35" stroke="#1c1c1c" stroke-width="1.35" fill="#bdbdbd"/>
<rect x="588.85" y="135.4" width="2.7" height="9.10" rx="1.35" stroke="#1c1c1c" stroke-width="1.35" fill="#bdbdbd"/>
<rect x="596.05" y="135.4" width="2.7" height="4.80" rx="1.35" stroke="#1c1c1c" stroke-width="1.35" fill="#bdbdbd"/>
<rect x="602.65" y="135.4" width="2.7" height="4.80" rx="1.35" stroke="#1c1c1c" stroke-width="1.35" fill="#bdbdbd"/>
<rect x="608.65" y="135.4" width="2.7" height="4.80" rx="1.35" stroke="#1c1c1c" stroke-width="1.35" fill="#bdbdbd"/>
<rect x="614.75" y="135.4" width="2.7" height="4.80" rx="1.35" stroke="#1c1c1c" stroke-width="1.35" fill="#bdbdbd"/>
<rect x="620.75" y="135.4" width="2.7" height="9.10" rx="1.35" stroke="#1c1c1c" stroke-width="1.35" fill="#bdbdbd"/>
<rect x="626.85" y="135.4" width="2.7" height="9.10" rx="1.35" stroke="#1c1c1c" stroke-width="1.35" fill="#bdbdbd"/>
<rect x="632.85" y="135.4" width="2.7" height="9.10" rx="1.35" stroke="#1c1c1c" stroke-width="1.35" fill="#bdbdbd"/>
<rect x="639.45" y="135.4" width="2.7" height="9.10" rx="1.35" stroke="#1c1c1c" stroke-width="1.35" fill="#bdbdbd"/>
<rect x="645.55" y="135.4" width="2.7" height="4.80" rx="1.35" stroke="#1c1c1c" stroke-width="1.35" fill="#bdbdbd"/>
<rect x="651.55" y="135.4" width="2.7" height="4.80" rx="1.35" stroke="#1c1c1c" stroke-width="1.35" fill="#bdbdbd"/>
<rect x="657.55" y="135.4" width="2.7" height="4.80" rx="1.35" stroke="#1c1c1c" stroke-width="1.35" fill="#bdbdbd"/>
<rect x="663.65" y="135.4" width="2.7" height="4.80" rx="1.35" stroke="#1c1c1c" stroke-width="1.35" fill="#bdbdbd"/>
<rect x="669.65" y="135.4" width="2.7" height="4.80" rx="1.35" stroke="#1c1c1c" stroke-width="1.35" fill="#bdbdbd"/>
<rect x="676.05" y="135.4" width="2.7" height="9.10" rx="1.35" stroke="#1c1c1c" stroke-width="1.35" fill="#bdbdbd"/>
<rect x="682.35" y="135.4" width="2.7" height="9.10" rx="1.35" stroke="#1c1c1c" stroke-width="1.35" fill="#bdbdbd"/>
<rect x="688.35" y="135.4" width="2.7" height="4.80" rx="1.35" stroke="#1c1c1c" stroke-width="1.35" fill="#bdbdbd"/>
<rect x="694.75" y="135.4" width="2.7" height="4.80" rx="1.35" stroke="#1c1c1c" stroke-width="1.35" fill="#bdbdbd"/>
<rect x="700.75" y="135.4" width="2.7" height="4.80" rx="1.35" stroke="#1c1c1c" stroke-width="1.35" fill="#bdbdbd"/>
<rect x="706.85" y="135.4" width="2.7" height="4.80" rx="1.35" stroke="#1c1c1c" stroke-width="1.35" fill="#bdbdbd"/>
<rect x="712.85" y="135.4" width="2.7" height="9.10" rx="1.35" stroke="#1c1c1c" stroke-width="1.35" fill="#bdbdbd"/>
<rect x="719.25" y="135.4" width="2.7" height="9.10" rx="1.35" stroke="#1c1c1c" stroke-width="1.35" fill="#bdbdbd"/>
<rect x="725.25" y="135.4" width="2.7" height="9.10" rx="1.35" stroke="#1c1c1c" stroke-width="1.35" fill="#bdbdbd"/>
<rect x="731.55" y="135.4" width="2.7" height="9.10" rx="1.35" stroke="#1c1c1c" stroke-width="1.35" fill="#bdbdbd"/>
<rect x="737.55" y="135.4" width="2.7" height="9.10" rx="1.35" stroke="#1c1c1c" stroke-width="1.35" fill="#bdbdbd"/>
<rect x="743.65" y="135.4" width="2.7" height="9.10" rx="1.35" stroke="#1c1c1c" stroke-width="1.35" fill="#bdbdbd"/>
<rect x="749.65" y="135.4" width="2.7" height="9.10" rx="1.35" stroke="#1c1c1c" stroke-width="1.35" fill="#bdbdbd"/>
<rect x="756.25" y="135.4" width="2.7" height="4.80" rx="1.35" stroke="#1c1c1c" stroke-width="1.35" fill="#bdbdbd"/>
<rect x="762.35" y="135.4" width="2.7" height="4.80" rx="1.35" stroke="#1c1c1c" stroke-width="1.35" fill="#bdbdbd"/>
<rect x="768.35" y="135.4" width="2.7" height="4.80" rx="1.35" stroke="#1c1c1c" stroke-width="1.35" fill="#bdbdbd"/>
<rect x="774.35" y="135.4" width="2.7" height="4.80" rx="1.35" stroke="#1c1c1c" stroke-width="1.35" fill="#bdbdbd"/>
<rect x="780.45" y="135.4" width="2.7" height="9.10" rx="1.35" stroke="#1c1c1c" stroke-width="1.35" fill="#bdbdbd"/>
<rect x="786.55" y="135.4" width="2.7" height="9.10" rx="1.35" stroke="#1c1c1c" stroke-width="1.35" fill="#bdbdbd"/>
<rect x="792.65" y="135.4" width="2.7" height="4.80" rx="1.35" stroke="#1c1c1c" stroke-width="1.35" fill="#bdbdbd"/>
<rect x="798.75" y="135.4" width="2.7" height="4.80" rx="1.35" stroke="#1c1c1c" stroke-width="1.35" fill="#bdbdbd"/>
<rect x="804.75" y="135.4" width="2.7" height="4.80" rx="1.35" stroke="#1c1c1c" stroke-width="1.35" fill="#bdbdbd"/>
<rect x="811.15" y="135.4" width="2.7" height="4.80" rx="1.35" stroke="#1c1c1c" stroke-width="1.35" fill="#bdbdbd"/>
<rect x="817.45" y="135.4" width="2.7" height="4.80" rx="1.35" stroke="#1c1c1c" stroke-width="1.35" fill="#bdbdbd"/>
<rect x="823.45" y="135.4" width="2.7" height="9.10" rx="1.35" stroke="#1c1c1c" stroke-width="1.35" fill="#bdbdbd"/>
<rect x="830.05" y="135.4" width="2.7" height="9.10" rx="1.35" stroke="#1c1c1c" stroke-width="1.35" fill="#bdbdbd"/>
<rect x="836.15" y="135.4" width="2.7" height="9.10" rx="1.35" stroke="#1c1c1c" stroke-width="1.35" fill="#bdbdbd"/>
<rect x="842.15" y="135.4" width="2.7" height="9.10" rx="1.35" stroke="#1c1c1c" stroke-width="1.35" fill="#bdbdbd"/>
<rect x="848.15" y="135.4" width="2.7" height="4.80" rx="1.35" stroke="#1c1c1c" stroke-width="1.35" fill="#bdbdbd"/>
<rect x="854.25" y="135.4" width="2.7" height="4.80" rx="1.35" stroke="#1c1c1c" stroke-width="1.35" fill="#bdbdbd"/>
<rect x="860.25" y="135.4" width="2.7" height="4.80" rx="1.35" stroke="#1c1c1c" stroke-width="1.35" fill="#bdbdbd"/>
<rect x="866.25" y="135.4" width="2.7" height="4.80" rx="1.35" stroke="#1c1c1c" stroke-width="1.35" fill="#bdbdbd"/>
<path d="M488.5,150.2 L488.5,142.5 Q488.5,139.4 492.0,139.4 L522,139.4 M496.3,150.2 Q497.5,144.6 503.5,143.8 L522,141.2" stroke="#1c1c1c" stroke-width="1.0" fill="none" />
<path d="M579,150.2 L579,142.5 Q579,139.4 575.5,139.4 L543,139.4 M571.2,150.2 Q570,144.6 564,143.8 L543,141.2" stroke="#1c1c1c" stroke-width="1.0" fill="none" />
<path d="M590.2,150.2 L590.2,142.5 Q590.2,139.4 593.7,139.4 L621,139.4 M598.0,150.2 Q599.2,144.6 605.2,143.8 L621,141.2" stroke="#1c1c1c" stroke-width="1.0" fill="none" />
<path d="M677.5,150.2 L677.5,142.5 Q677.5,139.4 674.0,139.4 L645,139.4 M669.7,150.2 Q668.5,144.6 662.5,143.8 L645,141.2" stroke="#1c1c1c" stroke-width="1.0" fill="none" />
<path d="M687.7,150.2 L687.7,142.5 Q687.7,139.4 691.2,139.4 L711,139.4 M695.5,150.2 Q696.7,144.6 702.7,143.8 L711,141.2" stroke="#1c1c1c" stroke-width="1.0" fill="none" />
<path d="M777.5,150.2 L777.5,142.5 Q777.5,139.4 774.0,139.4 L756,139.4 M769.7,150.2 Q768.5,144.6 762.5,143.8 L756,141.2" stroke="#1c1c1c" stroke-width="1.0" fill="none" />
<path d="M788,150.2 L788,142.5 Q788,139.4 791.5,139.4 L822,139.4 M795.8,150.2 Q797,144.6 803,143.8 L822,141.2" stroke="#1c1c1c" stroke-width="1.0" fill="none" />
<path d="M877.9,150.2 L877.9,142.5 Q877.9,139.4 874.4,139.4 L844,139.4 M870.1,150.2 Q868.9,144.6 862.9,143.8 L844,141.2" stroke="#1c1c1c" stroke-width="1.0" fill="none" />
<rect x="524.40" y="146.50" width="18.10" height="3.30" rx="0" stroke="#1c1c1c" stroke-width="0" fill="#1a1a1a"/>
<rect x="526.40" y="147.6" width="1.1" height="1" fill="#aaa"/>
<rect x="529.40" y="147.6" width="1.1" height="1" fill="#aaa"/>
<rect x="532.40" y="147.6" width="1.1" height="1" fill="#aaa"/>
<rect x="535.40" y="147.6" width="1.1" height="1" fill="#aaa"/>
<rect x="538.40" y="147.6" width="1.1" height="1" fill="#aaa"/>
<line x1="533.50" y1="140.00" x2="533.50" y2="147.00" stroke="#1c1c1c" stroke-width="1.0" />
<rect x="620.00" y="146.50" width="25.70" height="3.30" rx="0" stroke="#1c1c1c" stroke-width="0" fill="#1a1a1a"/>
<rect x="622.00" y="147.6" width="1.1" height="1" fill="#aaa"/>
<rect x="625.00" y="147.6" width="1.1" height="1" fill="#aaa"/>
<rect x="628.00" y="147.6" width="1.1" height="1" fill="#aaa"/>
<rect x="631.00" y="147.6" width="1.1" height="1" fill="#aaa"/>
<rect x="634.00" y="147.6" width="1.1" height="1" fill="#aaa"/>
<rect x="637.00" y="147.6" width="1.1" height="1" fill="#aaa"/>
<rect x="640.00" y="147.6" width="1.1" height="1" fill="#aaa"/>
<rect x="643.00" y="147.6" width="1.1" height="1" fill="#aaa"/>
<line x1="633.50" y1="140.00" x2="633.50" y2="147.00" stroke="#1c1c1c" stroke-width="1.0" />
<rect x="708.80" y="146.50" width="49.40" height="3.30" rx="0" stroke="#1c1c1c" stroke-width="0" fill="#1a1a1a"/>
<rect x="710.80" y="147.6" width="1.1" height="1" fill="#aaa"/>
<rect x="713.80" y="147.6" width="1.1" height="1" fill="#aaa"/>
<rect x="716.80" y="147.6" width="1.1" height="1" fill="#aaa"/>
<rect x="719.80" y="147.6" width="1.1" height="1" fill="#aaa"/>
<rect x="722.80" y="147.6" width="1.1" height="1" fill="#aaa"/>
<rect x="725.80" y="147.6" width="1.1" height="1" fill="#aaa"/>
<rect x="728.80" y="147.6" width="1.1" height="1" fill="#aaa"/>
<rect x="731.80" y="147.6" width="1.1" height="1" fill="#aaa"/>
<rect x="734.80" y="147.6" width="1.1" height="1" fill="#aaa"/>
<rect x="737.80" y="147.6" width="1.1" height="1" fill="#aaa"/>
<rect x="740.80" y="147.6" width="1.1" height="1" fill="#aaa"/>
<rect x="743.80" y="147.6" width="1.1" height="1" fill="#aaa"/>
<rect x="746.80" y="147.6" width="1.1" height="1" fill="#aaa"/>
<rect x="749.80" y="147.6" width="1.1" height="1" fill="#aaa"/>
<rect x="752.80" y="147.6" width="1.1" height="1" fill="#aaa"/>
<rect x="755.80" y="147.6" width="1.1" height="1" fill="#aaa"/>
<line x1="732.50" y1="140.00" x2="732.50" y2="147.00" stroke="#1c1c1c" stroke-width="1.0" />
<rect x="820.00" y="146.50" width="25.30" height="3.30" rx="0" stroke="#1c1c1c" stroke-width="0" fill="#1a1a1a"/>
<rect x="822.00" y="147.6" width="1.1" height="1" fill="#aaa"/>
<rect x="825.00" y="147.6" width="1.1" height="1" fill="#aaa"/>
<rect x="828.00" y="147.6" width="1.1" height="1" fill="#aaa"/>
<rect x="831.00" y="147.6" width="1.1" height="1" fill="#aaa"/>
<rect x="834.00" y="147.6" width="1.1" height="1" fill="#aaa"/>
<rect x="837.00" y="147.6" width="1.1" height="1" fill="#aaa"/>
<rect x="840.00" y="147.6" width="1.1" height="1" fill="#aaa"/>
<rect x="843.00" y="147.6" width="1.1" height="1" fill="#aaa"/>
<line x1="831.50" y1="140.00" x2="831.50" y2="147.00" stroke="#1c1c1c" stroke-width="1.0" />
<g font-family="Liberation Sans, sans-serif" fill="#2a2a2a" font-size="16" style="opacity:0.999;will-change:transform">
<text transform="translate(132.80,64.9) scale(1.07,1)" x="-4.375" y="0">6</text>
<text transform="translate(144.10,64.9) scale(1.07,1)" x="-4.25" y="0">0</text>
<text transform="translate(163.55,64.9) scale(1.07,1)" x="-3.875" y="0">c</text>
<text transform="translate(175.45,64.9) scale(1.14,1)" x="-6.625" y="0">m</text>
<text transform="translate(194.75,103.7) scale(1.07,1)" x="-4.375" y="0">2</text>
<text transform="translate(214.35,103.7) scale(1.07,1)" x="-3.875" y="0">c</text>
<text transform="translate(226.50,103.7) scale(1.14,1)" x="-6.625" y="0">m</text>
<g transform="translate(655.20,70.5)"><path d="M-2.3,-8.5 L0.8,-10.9 L0.8,0" fill="none" stroke="#2a2a2a" stroke-width="1.15"/></g>
<text transform="translate(665.40,70.5) scale(1.07,1)" x="-4.375" y="0">2</text>
<text transform="translate(675.95,70.5) scale(1.07,1)" x="-4.25" y="0">0</text>
<text transform="translate(695.50,70.5) scale(1.07,1)" x="-3.875" y="0">c</text>
<text transform="translate(707.65,70.5) scale(1.14,1)" x="-6.625" y="0">m</text>
<text transform="translate(411.6,101.25) rotate(-90) scale(1.07,1)" x="-4.375" y="0">6</text>
<text transform="translate(411.6,82.85) rotate(-90) scale(1.07,1)" x="-3.875" y="0">c</text>
<text transform="translate(411.6,70.30) rotate(-90) scale(1.14,1)" x="-6.625" y="0">m</text>
<text transform="translate(412.1,365.95) rotate(-90) scale(1.07,1)" x="-4.375" y="0">9</text>
<text transform="translate(412.1,355.75) rotate(-90) scale(1.07,1)" x="-4.25" y="0">0</text>
<text transform="translate(412.1,335.65) rotate(-90) scale(1.07,1)" x="-4.375" y="0">÷</text>
<text transform="translate(412.1,316.35) rotate(-90) scale(1.07,1)" x="-4.375" y="0">9</text>
<g transform="translate(412.1,306.60) rotate(-90)"><path d="M-2.3,-8.5 L0.8,-10.9 L0.8,0" fill="none" stroke="#2a2a2a" stroke-width="1.15"/></g>
<text transform="translate(412.1,300.20) rotate(-90) scale(1.0,1)" x="-2.0" y="0">.</text>
<text transform="translate(412.1,292.25) rotate(-90) scale(1.07,1)" x="-4.375" y="0">5</text>
<text transform="translate(412.1,276.50) rotate(-90) scale(1.07,1)" x="-3.875" y="0">c</text>
<text transform="translate(412.1,261.60) rotate(-90) scale(1.14,1)" x="-6.625" y="0">m</text>
<text transform="translate(951.6,122.55) rotate(-90) scale(1.07,1)" x="-4.25" y="0">4</text>
<text transform="translate(951.6,104.10) rotate(-90) scale(1.07,1)" x="-3.875" y="0">c</text>
<text transform="translate(951.6,91.80) rotate(-90) scale(1.14,1)" x="-6.625" y="0">m</text>
<text transform="translate(951.6,315.20) rotate(-90) scale(1.07,1)" x="-4.375" y="0">8</text>
<g transform="translate(951.6,307.30) rotate(-90)"><path d="M-2.3,-8.5 L0.8,-10.9 L0.8,0" fill="none" stroke="#2a2a2a" stroke-width="1.15"/></g>
<text transform="translate(951.6,289.05) rotate(-90) scale(1.07,1)" x="-3.875" y="0">c</text>
<text transform="translate(951.6,275.70) rotate(-90) scale(1.14,1)" x="-6.625" y="0">m</text>
</g>
</svg>
</body></html>
